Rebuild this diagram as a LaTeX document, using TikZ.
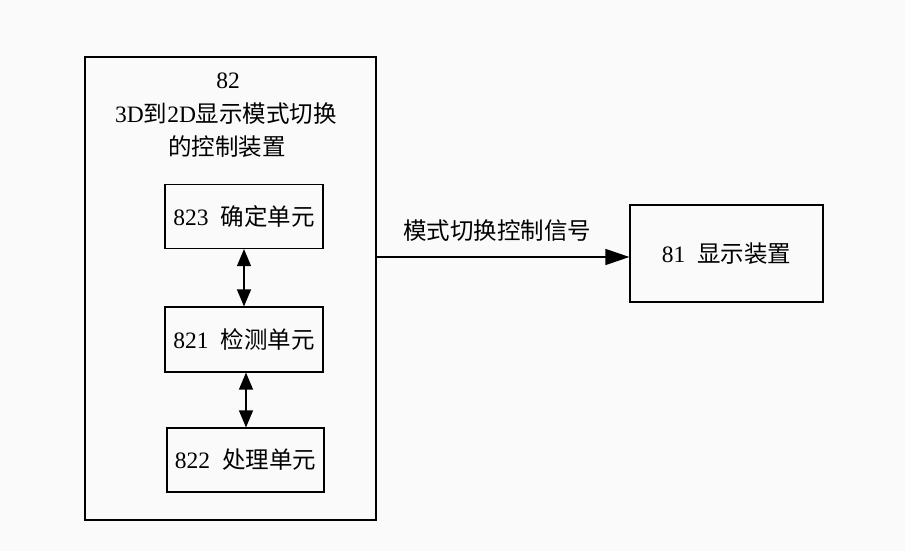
\documentclass[tikz,border=0pt]{standalone}
\usepackage{fontspec}
\setmainfont{Liberation Serif}
\newfontfamily\cjk{Noto Sans CJK SC}
\usetikzlibrary{arrows.meta}
\begin{document}
\begin{tikzpicture}[x=1pt,y=-1pt,
  box/.style={draw,line width=1.2pt},
  lbl/.style={font=\fontsize{23.5}{28}\selectfont,inner sep=0pt},
  arr/.style={line width=1.3pt,-{Triangle[length=24pt,width=16pt]}},
  darr/.style={line width=1.3pt,{Triangle[length=17pt,width=14pt]}-{Triangle[length=17pt,width=14pt]}}]
\fill[fill={rgb,255:red,250;green,250;blue,250}] (0,0) rectangle (905,551);
\useasboundingbox (0,0) rectangle (905,551);
% outer box
\draw[box] (85,57) rectangle (376,520);
\coordinate (outerR) at (376,257);
\node[lbl] (t82) at (228,81) {82};
\node[lbl] (t1) at (226,114) {3D{\cjk 到}2D{\cjk 显示模式切换}};
\node[lbl] (t2) at (227,147) {\cjk 的控制装置};
% inner boxes
\node[box,minimum width=158pt,minimum height=64pt,inner sep=0pt] (u823) at (244,216.5) {};
\node[lbl] at (u823) {823\hspace{12pt}{\cjk 确定单元}};
\node[box,minimum width=158pt,minimum height=65pt,inner sep=0pt] (u821) at (244,339.5) {};
\node[lbl] at (u821) {821\hspace{12pt}{\cjk 检测单元}};
\node[box,minimum width=157pt,minimum height=64pt,inner sep=0pt] (u822) at (245.5,460) {};
\node[lbl] at (u822) {822\hspace{12pt}{\cjk 处理单元}};
\draw[darr] (u823.south) -- (u821.north);
\draw[darr] ([xshift=2pt]u821.south) -- ([xshift=0.5pt]u822.north);
% display
\node[box,minimum width=193pt,minimum height=97pt,inner sep=0pt] (d81) at (726.5,253.5) {};
\node[lbl] at (d81) {81\hspace{12pt}{\cjk 显示装置}};
\draw[arr] (outerR) -- (outerR -| d81.west);
\node[lbl] (sig) at (497,231) {\cjk 模式切换控制信号};
\end{tikzpicture}
\end{document}
